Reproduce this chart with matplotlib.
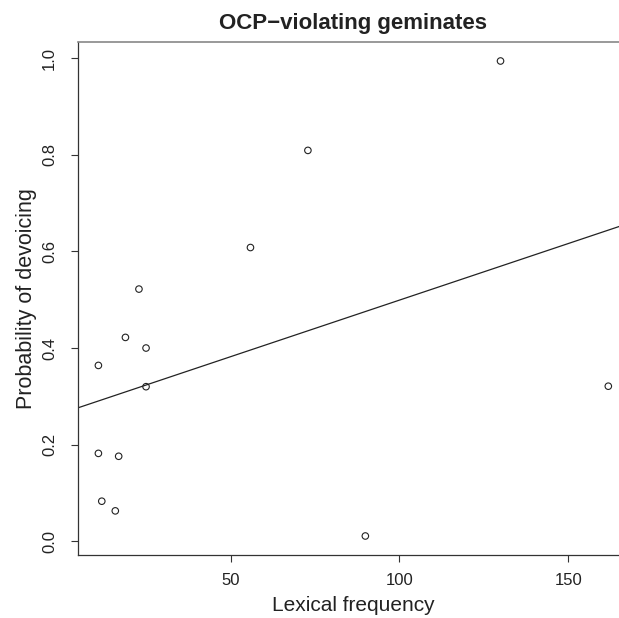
import numpy as np
import matplotlib
matplotlib.use('Agg')
import matplotlib.pyplot as plt

plt.rcParams['font.family'] = ['Liberation Sans', 'DejaVu Sans']

# lexical frequency vs. probability of devoicing
freq = [10.9, 11.9, 15.9, 16.9, 10.9, 18.9, 22.9, 25.0, 25.0, 55.9, 72.9, 89.9, 129.9, 161.8]
prob = [0.182, 0.083, 0.063, 0.176, 0.364, 0.422, 0.522, 0.400, 0.320, 0.608, 0.809, 0.011, 0.994, 0.321]

title = 'OCP\u2212violating geminates'
xlabel = 'Lexical frequency'
ylabel = 'Probability of devoicing'
xticks = [50, 100, 150]
yticks = [0.0, 0.2, 0.4, 0.6, 0.8, 1.0]

fig = plt.figure(figsize=(6.19, 6.18), dpi=100)
ax = fig.add_axes([78 / 619, 1 - 555 / 618, (628.7 - 78) / 619, (555 - 42) / 618])

ax.scatter(freq, prob, s=22, facecolors='none', edgecolors='#222222', linewidths=0.8, zorder=3)

# least squares line, like abline(lm(...)) in R
slope, icpt = np.polyfit(freq, prob, 1)
ax.axline((0, icpt), slope=slope, color='#222222', linewidth=0.9)

# R style 4% padding on both axes
xr = max(freq) - min(freq)
yr = max(prob) - min(prob)
ax.set_xlim(min(freq) - 0.04 * xr, max(freq) + 0.04 * xr)
ax.set_ylim(min(prob) - 0.04 * yr, max(prob) + 0.04 * yr)

ax.set_xticks(xticks)
ax.set_xticklabels([str(t) for t in xticks])
ax.set_yticks(yticks)
ax.set_yticklabels(['%.1f' % t for t in yticks], rotation=90, va='center')

ax.tick_params(axis='both', length=5, width=0.8, color='#333333', labelsize=12, labelcolor='#222222')
ax.tick_params(axis='x', pad=8)
ax.tick_params(axis='y', pad=10)

for side in ['left', 'bottom']:
    ax.spines[side].set_color('#333333')
    ax.spines[side].set_linewidth(0.9)
ax.spines['top'].set_color('#888888')
ax.spines['top'].set_linewidth(1.2)
ax.spines['right'].set_color('#888888')

ax.set_xlabel(xlabel, fontsize=15, color='#222222', labelpad=6)
ax.set_ylabel(ylabel, fontsize=15.5, color='#222222', labelpad=4)
ax.set_title(title, fontsize=16, fontweight='bold', color='#222222', pad=9)

fig.savefig('out.png', dpi=100)
